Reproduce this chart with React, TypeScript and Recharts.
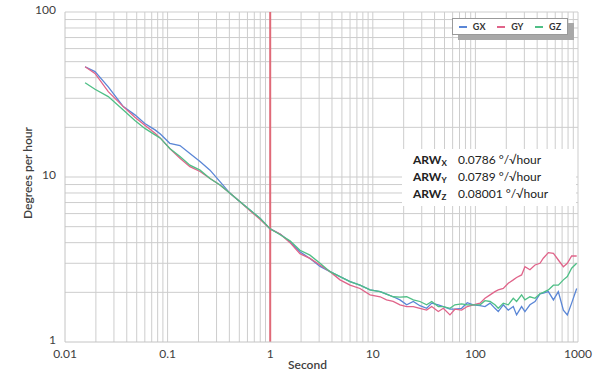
import { LineChart, Line, XAxis, YAxis, ReferenceLine, Label } from "recharts"

// averaging time (s)
const tau = [
  0.0157, 0.0196, 0.0264, 0.037, 0.048, 0.06, 0.0754, 0.085, 0.105, 0.132,
  0.165, 0.207, 0.259, 0.324, 0.406, 0.508, 0.636, 0.795, 1.0, 1.26,
  1.56, 1.95, 2.44, 3.06, 3.83, 4.79, 6.0, 7.5, 9.4, 11.8,
  13.6, 15.8, 18.4, 21.4, 24.8, 28.8, 33.5, 37.5, 43.5, 48.7,
  56.5, 63.1, 73.4, 83.3, 95.4, 111, 124, 139, 155, 167,
  187, 209, 234, 252, 282, 304, 340, 381, 426, 459,
  514, 576, 643, 720, 787, 867, 971,
]

const gx = [
  46.6, 43.5, 35.2, 26.7, 23.8, 21.1, 19.3, 18.2, 16.0, 15.5,
  13.9, 12.4, 11.0, 9.37, 7.96, 7.08, 6.31, 5.62, 4.85, 4.5,
  4.05, 3.52, 3.21, 2.87, 2.67, 2.49, 2.32, 2.21, 2.07, 2.02,
  1.95, 1.88, 1.8, 1.68, 1.76, 1.66, 1.6, 1.72, 1.68, 1.64,
  1.58, 1.58, 1.6, 1.73, 1.68, 1.66, 1.64, 1.72, 1.6, 1.53,
  1.68, 1.56, 1.64, 1.46, 1.64, 1.53, 1.68, 1.76, 1.96, 1.98,
  2.02, 1.8, 2.02, 1.56, 1.46, 1.72, 2.11,
]

const gy = [
  46.6, 42.4, 32.9, 26.7, 23.0, 20.6, 18.4, 17.2, 14.9, 13.0,
  11.55, 10.8, 9.8, 8.94, 7.96, 7.08, 6.25, 5.55, 4.85, 4.5,
  4.0, 3.43, 3.21, 2.93, 2.67, 2.38, 2.21, 2.11, 1.93, 1.88,
  1.8, 1.76, 1.68, 1.64, 1.64, 1.6, 1.56, 1.64, 1.53, 1.6,
  1.46, 1.58, 1.56, 1.64, 1.68, 1.72, 1.84, 1.93, 2.02, 2.07,
  2.11, 2.27, 2.38, 2.46, 2.55, 2.86, 2.74, 2.93, 3.0, 3.22,
  3.48, 3.45, 3.14, 2.86, 3.0, 3.32, 3.32,
]

const gz = [
  37.3, 34.0, 30.7, 25.5, 22.0, 19.7, 18.0, 17.2, 14.9, 13.3,
  11.8, 11.0, 9.8, 8.94, 7.96, 7.08, 6.31, 5.62, 4.85, 4.45,
  4.1, 3.6, 3.36, 3.0, 2.67, 2.49, 2.32, 2.21, 2.07, 2.02,
  1.95, 1.88, 1.87, 1.88, 1.8, 1.76, 1.68, 1.76, 1.64, 1.64,
  1.6, 1.68, 1.7, 1.68, 1.68, 1.68, 1.78, 1.76, 1.68, 1.6,
  1.72, 1.68, 1.84, 1.76, 1.93, 1.8, 1.88, 1.84, 1.96, 2.0,
  2.07, 2.21, 2.21, 2.38, 2.49, 2.8, 3.0,
]

const xTicks = [0.01, 0.1, 1, 10, 100, 1000]
const yTicks = [1, 10, 100]

// minor grid values (1..9 per decade)
const xGrid = [
  0.02, 0.03, 0.04, 0.05, 0.06, 0.07, 0.08, 0.09,
  0.1, 0.2, 0.3, 0.4, 0.5, 0.6, 0.7, 0.8, 0.9,
  2, 3, 4, 5, 6, 7, 8, 9,
  10, 20, 30, 40, 50, 60, 70, 80, 90,
  100, 200, 300, 400, 500, 600, 700, 800, 900, 1000,
]
const yGrid = [
  2, 3, 4, 5, 6, 7, 8, 9,
  10, 20, 30, 40, 50, 60, 70, 80, 90, 100,
]

const arw = [
  { axis: "X", value: "0.0786" },
  { axis: "Y", value: "0.0789" },
  { axis: "Z", value: "0.08001" },
]

const series = [
  { key: "gx", name: "GX", color: "#5a86d6" },
  { key: "gy", name: "GY", color: "#e0648a" },
  { key: "gz", name: "GZ", color: "#4fbf86" },
]

const data = tau.map((t, i) => ({ t, gx: gx[i], gy: gy[i], gz: gz[i] }))

const font = "Lato, 'Open Sans', sans-serif"
const gridColor = "#cdcdcd"

export default function App() {
  return (
    <div style={{ position: "absolute", left: 0, top: 0, width: 600, height: 375, background: "#fff", fontFamily: font }}>
      <LineChart width={600} height={375} data={data} margin={{ top: 12, right: 22, left: 0, bottom: 0 }}>
        <XAxis
          dataKey="t"
          type="number"
          scale="log"
          domain={[0.01, 1000]}
          ticks={xTicks}
          allowDataOverflow
          height={33}
          tickLine={false}
          tickSize={0}
          tickMargin={7}
          stroke="#c4c4c4"
          tick={{ fill: "#404040", fontSize: 12, fontFamily: font }}
          tickFormatter={(v) => String(v)}
        >
          <Label value="Second" position="center" dx={-14} dy={6} style={{ fill: "#404040", fontSize: 12, fontWeight: 600, fontFamily: font }} />
        </XAxis>
        <YAxis
          type="number"
          scale="log"
          domain={[1, 100]}
          ticks={yTicks}
          allowDataOverflow
          width={65}
          tickLine={false}
          tickSize={0}
          tickMargin={9}
          stroke="#c4c4c4"
          tick={{ fill: "#404040", fontSize: 12, fontFamily: font, dy: -2 }}
        >
          <Label value="Degrees per hour" angle={-90} position="center" dx={-5} dy={-4} style={{ fill: "#404040", fontSize: 12, fontWeight: 600, fontFamily: font, textAnchor: "middle" }} />
        </YAxis>
        {xGrid.map((v) => (
          <ReferenceLine key={"vx" + v} x={v} stroke={gridColor} strokeWidth={1} />
        ))}
        {yGrid.map((v) => (
          <ReferenceLine key={"hy" + v} y={v} stroke={gridColor} strokeWidth={1} />
        ))}
        <ReferenceLine x={1} stroke="#e06a78" strokeWidth={2} />
        {series.map((s) => (
          <Line
            key={s.key}
            type="linear"
            dataKey={s.key}
            name={s.name}
            stroke={s.color}
            strokeWidth={1.3}
            dot={false}
            isAnimationActive={false}
          />
        ))}
      </LineChart>

      {/* legend box with drop shadow */}
      <div
        style={{
          position: "absolute",
          left: 452,
          top: 18,
          width: 114,
          height: 15,
          background: "#fff",
          border: "1px solid #9a9a9a",
          boxShadow: "6px 5px 0 #a8a8a8",
          display: "flex",
          alignItems: "center",
          justifyContent: "space-around",
          fontSize: 9,
          fontWeight: 700,
          color: "#333",
        }}
      >
        {series.map((s) => (
          <span key={s.key} style={{ display: "flex", alignItems: "center" }}>
            <span style={{ display: "inline-block", width: 8, height: 2, background: s.color, marginRight: 6 }} />
            {s.name}
          </span>
        ))}
      </div>

      {/* ARW annotation */}
      <div
        style={{
          position: "absolute",
          left: 402,
          top: 149,
          width: 174,
          height: 57,
          background: "#fff",
          fontSize: 12,
          color: "#222",
          lineHeight: "13px",
          paddingTop: 4,
          boxSizing: "border-box",
        }}
      >
        {arw.map((a) => (
          <div key={a.axis} style={{ display: "flex", paddingLeft: 11 }}>
            <span style={{ width: 45, fontWeight: 700 }}>
              ARW<sub style={{ fontSize: 8, verticalAlign: "-2px" }}>{a.axis}</sub>
            </span>
            <span>{a.value} °/√hour</span>
          </div>
        ))}
      </div>
    </div>
  )
}
